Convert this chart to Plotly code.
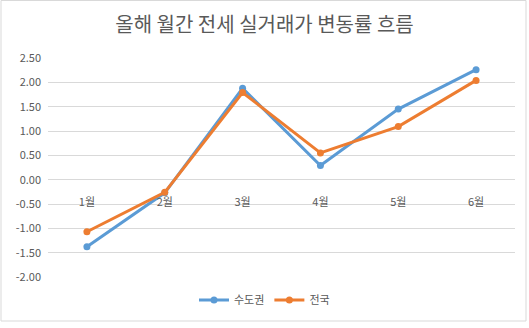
import plotly.graph_objects as go

months = ["1월", "2월", "3월", "4월", "5월", "6월"]
sudogwon = [-1.38, -0.27, 1.88, 0.29, 1.45, 2.26]
jeonguk = [-1.07, -0.26, 1.79, 0.55, 1.09, 2.04]
y_ticks = [2.5, 2.0, 1.5, 1.0, 0.5, 0.0, -0.5, -1.0, -1.5, -2.0]
y_tick_labels = ["%.2f" % v for v in y_ticks]

FONT = "Noto Sans CJK KR, Malgun Gothic, sans-serif"
GRAY = "#595959"

fig = go.Figure()
fig.add_trace(go.Scatter(x=months, y=sudogwon, name="수도권", mode="lines+markers",
                         line=dict(color="#5B9BD5", width=3), marker=dict(size=7, color="#5B9BD5")))
fig.add_trace(go.Scatter(x=months, y=jeonguk, name="전국", mode="lines+markers",
                         line=dict(color="#ED7D31", width=3), marker=dict(size=7, color="#ED7D31")))

ymin, ymax = -2.0, 2.5
fig.update_layout(
    width=529, height=328,
    margin=dict(l=48, r=14, t=58, b=51, autoexpand=False),
    paper_bgcolor="white", plot_bgcolor="white",
    font=dict(family=FONT, color=GRAY, size=11),
    title=dict(text="올해 월간 전세 실거래가 변동률 흐름", x=0.5, xanchor="center",
               y=1 - 25 / 328, yanchor="middle", font=dict(size=20, color=GRAY, family=FONT)),
    showlegend=True,
    legend=dict(orientation="h", x=0.5, xanchor="center", xref="container",
                y=1 - 300 / 328, yanchor="middle", yref="container",
                font=dict(size=11, color=GRAY, family=FONT), itemwidth=30),
    xaxis=dict(type="category", showgrid=False, zeroline=False, showline=False,
               anchor="free", position=(0 - ymin) / (ymax - ymin),
               ticks="outside", ticklen=12, tickcolor="rgba(0,0,0,0)",
               tickfont=dict(size=11, color=GRAY), range=[-0.5, 5.5]),
    yaxis=dict(range=[ymin, ymax], tickvals=y_ticks, ticktext=y_tick_labels,
               showgrid=True, gridcolor="#D9D9D9", gridwidth=1, zeroline=False,
               showline=False, tickfont=dict(size=11, color=GRAY), ticks="", ticklabelstandoff=6),
    shapes=[dict(type="rect", xref="paper", yref="paper",
                 x0=(1 - 48) / 467, x1=(526 - 48) / 467,
                 y0=(277 - 321) / 219, y1=(277 - 0.5) / 219,
                 line=dict(color="#D9D9D9", width=1), layer="below")],
)

fig.write_html("out.html")
